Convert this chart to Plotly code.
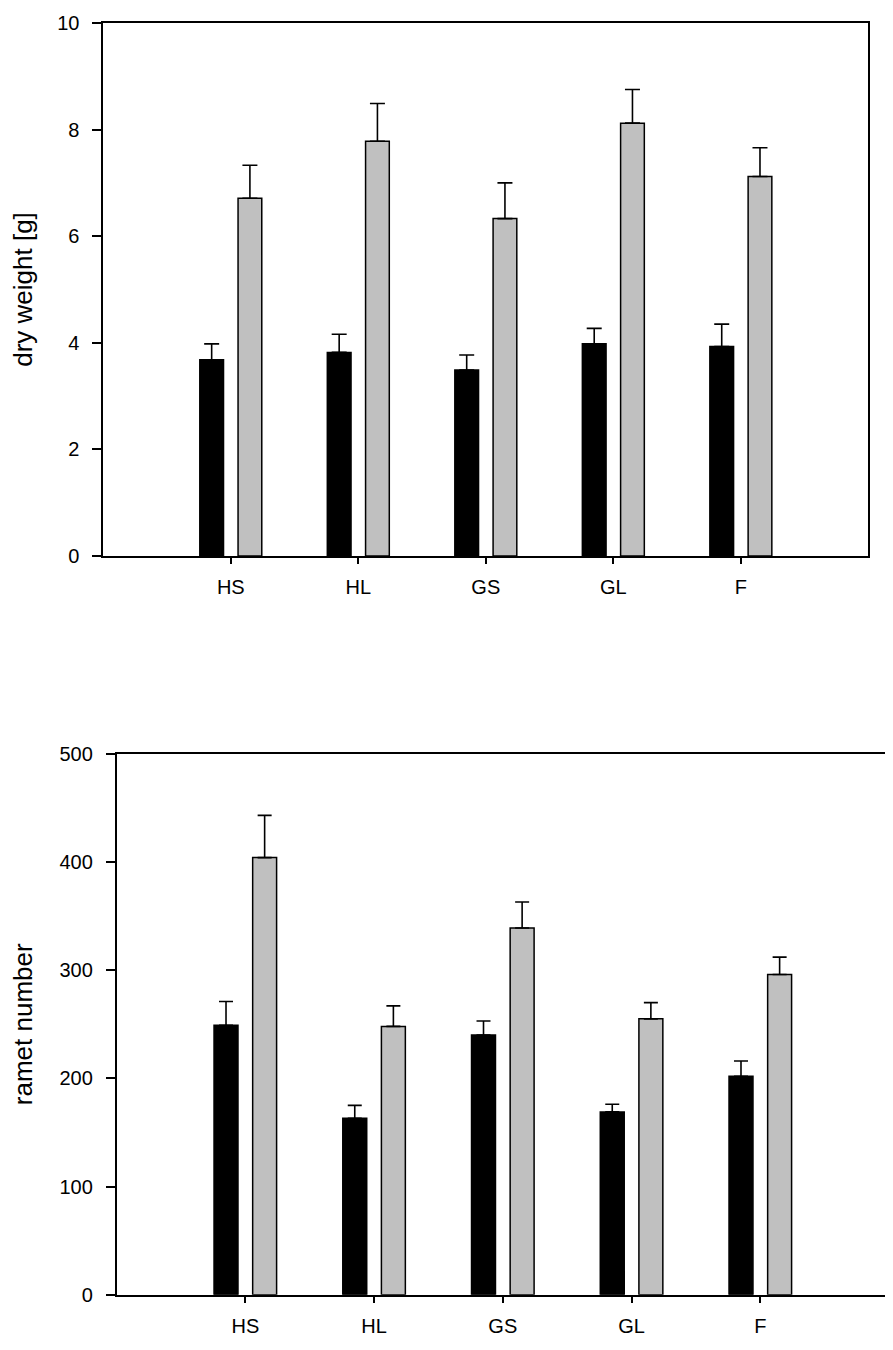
import plotly.graph_objects as go

# the page keeps an 8px body margin, so page pixel p sits at p - 8 in the figure
PAD = 8
W, H = 893 - PAD, 1350 - PAD

sites = ["HS", "HL", "GS", "GL", "F"]

# dry weight [g]
dw_black = [3.68, 3.82, 3.49, 3.98, 3.93]
dw_black_err = [0.30, 0.34, 0.28, 0.29, 0.42]
dw_gray = [6.71, 7.78, 6.33, 8.12, 7.12]
dw_gray_err = [0.62, 0.71, 0.67, 0.63, 0.54]

# ramet number
rn_black = [249, 163, 240, 169, 202]
rn_black_err = [22, 12, 13, 7, 14]
rn_gray = [404, 248, 339, 255, 296]
rn_gray_err = [39, 19, 24, 15, 16]

FONT = "Liberation Sans, Arial, sans-serif"


def px_x(p):
    return min(1, (p - PAD) / W)


def px_y(p):
    return min(1, 1 - (p - PAD) / H)


def bars(y, err, color, xa, ya, cap):
    return go.Bar(
        x=sites, y=y, xaxis=xa, yaxis=ya,
        marker=dict(color=color, line=dict(color="black", width=1.5)),
        error_y=dict(type="data", symmetric=False, array=err,
                     arrayminus=[0] * len(err), color="black",
                     thickness=1.6, width=cap),
        showlegend=False,
    )


fig = go.Figure()
fig.add_trace(bars(dw_black, dw_black_err, "black", "x", "y", 7.5))
fig.add_trace(bars(dw_gray, dw_gray_err, "#c0c0c0", "x", "y", 7.5))
fig.add_trace(bars(rn_black, rn_black_err, "black", "x2", "y2", 7))
fig.add_trace(bars(rn_gray, rn_gray_err, "#c0c0c0", "x2", "y2", 7))

xcommon = dict(range=[-1, 5], showline=True, linecolor="black", linewidth=1.6,
               mirror=True, ticks="outside", ticklen=6, tickwidth=1.5,
               tickcolor="black", showgrid=False, zeroline=False,
               tickfont=dict(size=20, color="black"), ticklabelstandoff=6)
ycommon = dict(showline=True, linecolor="black", linewidth=1.6, mirror=True,
               ticks="outside", ticklen=9, tickwidth=1.5, tickcolor="black",
               showgrid=False, zeroline=False,
               tickfont=dict(size=20, color="black"), ticklabelstandoff=9)

fig.update_layout(
    width=W, height=H,
    margin=dict(l=0, r=0, t=0, b=0),
    paper_bgcolor="white", plot_bgcolor="white",
    font=dict(family=FONT, color="black"),
    barmode="group", bargap=0.4, bargroupgap=0.38,
    xaxis=dict(domain=[px_x(91.5), px_x(868)], anchor="y", **xcommon),
    yaxis=dict(domain=[px_y(554), px_y(12)], anchor="x", range=[0, 10],
               dtick=2, title=dict(text="dry weight [g]", font=dict(size=26),
                                   standoff=31),
               **ycommon),
    xaxis2=dict(domain=[px_x(105), px_x(889)], anchor="y2", **xcommon),
    yaxis2=dict(domain=[px_y(1305), px_y(755)], anchor="x2",
                range=[0, 500], dtick=100,
                title=dict(text="ramet number", font=dict(size=26),
                           standoff=22),
                **ycommon),
)

fig.write_html("out.html")
